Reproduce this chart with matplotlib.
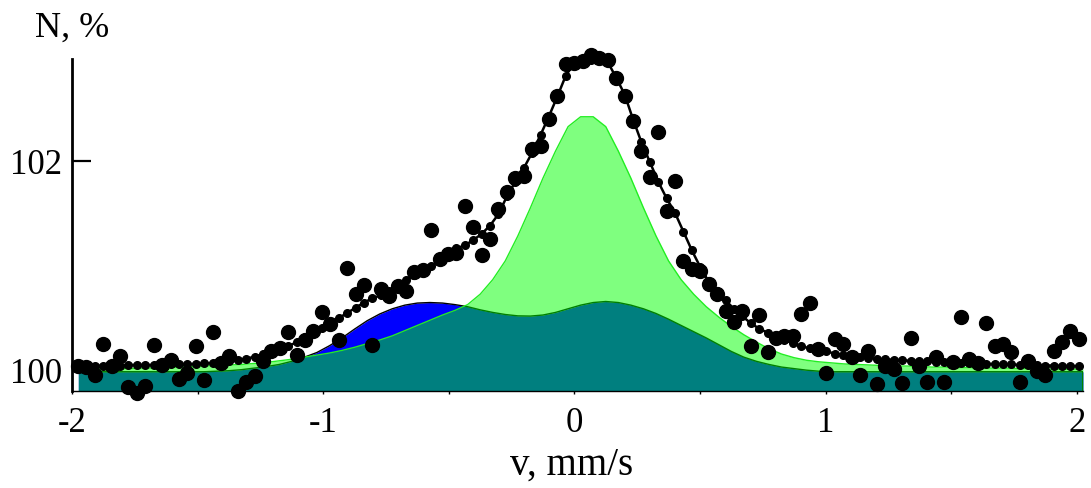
import numpy as np
import matplotlib
matplotlib.use("Agg")
import matplotlib.pyplot as plt
from matplotlib.ticker import MultipleLocator

# ---------------- data ----------------
# channel velocities (mm/s) of the spectrum
v_channels = np.linspace(-1.976, 2.008, 120)

counts = [
    100.03, 100.02, 99.94, 100.24, 100.03, 100.13, 99.83, 99.77, 99.84, 100.23,
    100.04, 100.09, 99.91, 99.96, 100.22, 99.90, 100.36, 100.06, 100.125, 99.79,
    99.88, 99.93, 100.08, 100.17, 100.20, 100.36, 100.14, 100.28, 100.37, 100.55,
    100.43, 100.28, 100.97, 100.72, 100.81, 100.23, 100.77, 100.70, 100.80, 100.75,
    100.93, 100.95, 101.34, 101.06, 101.11, 101.12, 101.57, 101.37, 101.10, 101.25,
    101.54, 101.70, 101.84, 101.86, 102.12, 102.14, 102.40, 102.62, 102.93, 102.94,
    102.96, 103.02, 102.99, 102.97, 102.80, 102.62, 102.38, 102.10, 101.85, 102.28,
    101.52, 101.81, 101.04, 100.96, 100.94, 100.82, 100.72, 100.56, 100.45, 100.56,
    100.22, 100.52, 100.16, 100.30, 100.32, 100.32, 100.53, 100.64, 100.19, 99.96,
    100.29, 100.24, 100.12, 99.94, 100.17, 99.86, 100.03, 100.00, 99.87, 100.30,
    100.03, 99.88, 100.12, 99.88, 100.07, 100.50, 100.10, 100.06, 100.44, 100.22,
    100.24, 100.16, 99.88, 100.08, 99.98, 99.94, 100.17, 100.26, 100.37, 100.29,
]

fit = [
    100.03, 100.03, 100.03, 100.035, 100.035, 100.035, 100.04, 100.04, 100.04, 100.04,
    100.045, 100.045, 100.045, 100.05, 100.05, 100.055, 100.06, 100.07, 100.08, 100.09,
    100.10, 100.12, 100.145, 100.165, 100.19, 100.22, 100.26, 100.31, 100.35, 100.40,
    100.45, 100.49, 100.54, 100.59, 100.64, 100.68, 100.71, 100.75, 100.81, 100.86,
    100.90, 100.94, 100.99, 101.05, 101.12, 101.16, 101.19, 101.24, 101.30, 101.38,
    101.49, 101.66, 101.80, 101.93, 102.08, 102.25, 102.43, 102.62, 102.82, 102.94,
    102.96, 102.97, 102.97, 102.95, 102.80, 102.64, 102.40, 102.18, 101.99, 101.80,
    101.64, 101.50, 101.32, 101.14, 100.98, 100.84, 100.75, 100.66, 100.58, 100.51,
    100.44, 100.39, 100.35, 100.32, 100.28, 100.25, 100.22, 100.20, 100.185, 100.17,
    100.15, 100.135, 100.125, 100.115, 100.11, 100.10, 100.095, 100.09, 100.085, 100.08,
    100.08, 100.075, 100.07, 100.07, 100.065, 100.06, 100.06, 100.055, 100.05, 100.05,
    100.045, 100.045, 100.04, 100.04, 100.04, 100.035, 100.035, 100.03, 100.03, 100.03,
]

# sub-spectra sampled on a finer velocity grid
v_components = np.linspace(-1.975, 2.025, 81)

singlet = [
    100.00, 100.00, 100.005, 100.005, 100.005, 100.01, 100.01, 100.015, 100.02, 100.025,
    100.03, 100.035, 100.04, 100.045, 100.055, 100.065, 100.08, 100.095, 100.115, 100.135,
    100.155, 100.18, 100.21, 100.245, 100.28, 100.32, 100.37, 100.42, 100.47, 100.52,
    100.565, 100.62, 100.72, 100.86, 101.04, 101.28, 101.55, 101.835, 102.095, 102.33,
    102.425, 102.425, 102.33, 102.095, 101.835, 101.55, 101.28, 101.04, 100.86, 100.72,
    100.60, 100.50, 100.41, 100.33, 100.26, 100.195, 100.145, 100.11, 100.085, 100.07,
    100.06, 100.05, 100.045, 100.04, 100.035, 100.03, 100.03, 100.025, 100.02, 100.02,
    100.015, 100.015, 100.01, 100.01, 100.01, 100.005, 100.005, 100.00, 100.00, 100.00,
    100.00,
]

doublet = [
    99.975, 99.975, 99.975, 99.975, 99.975, 99.975, 99.975, 99.975, 99.975, 99.975,
    99.975, 99.98, 99.985, 99.995, 100.01, 100.025, 100.045, 100.075, 100.115, 100.16,
    100.225, 100.30, 100.385, 100.465, 100.53, 100.58, 100.615, 100.635, 100.64, 100.635,
    100.62, 100.60, 100.57, 100.545, 100.525, 100.512, 100.51, 100.52, 100.545, 100.58,
    100.615, 100.64, 100.65, 100.64, 100.615, 100.58, 100.535, 100.48, 100.42, 100.36,
    100.30, 100.235, 100.17, 100.115, 100.075, 100.045, 100.02, 100.005, 99.99, 99.98,
    99.975, 99.975, 99.975, 99.975, 99.975, 99.975, 99.975, 99.975, 99.975, 99.975,
    99.975, 99.975, 99.975, 99.975, 99.975, 99.975, 99.975, 99.975, 99.975, 99.975,
    99.975,
]

y_ticks = [100, 102]
x_ticks = [-2, -1, 0, 1, 2]
x_label = "v, mm/s"
y_label = "N, %"

# ---------------- figure ----------------
plt.rcParams['font.family'] = ['Liberation Serif', 'DejaVu Serif']

W, H = 1091, 489
fig = plt.figure(figsize=(W / 100, H / 100), dpi=100)
L, R, B, T = 72, 1083, 392, 60
ax = fig.add_axes([L / W, (H - B) / H, (R - L) / W, (B - T) / H])

ymin, ymax = 99.79, 102.98
ax.set_xlim(-2, 2.025)
ax.set_ylim(ymin, ymax)

vc = np.asarray(v_components)
d_arr = np.asarray(doublet)
s_arr = np.asarray(singlet)

# doublet (opaque blue) then singlet (semi-transparent green)
ax.fill_between(vc, ymin, d_arr, color='#0000ff', lw=0, zorder=1)
ax.plot(vc, d_arr, color='black', lw=1.0, zorder=1.1)
ax.plot([vc[-1], vc[-1]], [ymin, d_arr[-1]], color='black', lw=1.5, zorder=1.1)
ax.fill_between(vc, ymin, s_arr, color=(0, 1, 0, 0.5), lw=0, zorder=1.2)
ax.plot(vc, s_arr, color='#22ee22', lw=1.0, zorder=1.3)

# fit envelope with small markers at each channel
ax.plot(v_channels, fit, color='black', lw=1.8, marker='o', ms=5.5,
        zorder=3, clip_on=False)
# experimental points
ax.plot(v_channels, counts, linestyle='none', marker='o', ms=10,
        color='black', zorder=4, clip_on=False)

# axes styling
ax.spines['top'].set_visible(False)
ax.spines['right'].set_visible(False)
ax.spines['left'].set_linewidth(2.0)
ax.spines['bottom'].set_linewidth(1.0)
ax.set_axisbelow(True)

ax.set_yticks(y_ticks)
ax.set_yticklabels([str(t) for t in y_ticks])
ax.tick_params(axis='y', direction='in', length=13.5, width=1.6,
               labelsize=25, pad=7)
ax.set_xticks(x_ticks)
ax.set_xticklabels([str(t) for t in x_ticks])
ax.xaxis.set_minor_locator(MultipleLocator(0.5))
ax.tick_params(axis='x', which='both', direction='out', length=2.5, width=1.0,
               labelsize=25, pad=8)

fig.text(572 / W, 1 - 465 / H, x_label, ha='center', va='center', fontsize=28)
fig.text(35 / W, 1 - 28 / H, y_label, ha='left', va='center', fontsize=26)

fig.savefig('out.png', dpi=100)
